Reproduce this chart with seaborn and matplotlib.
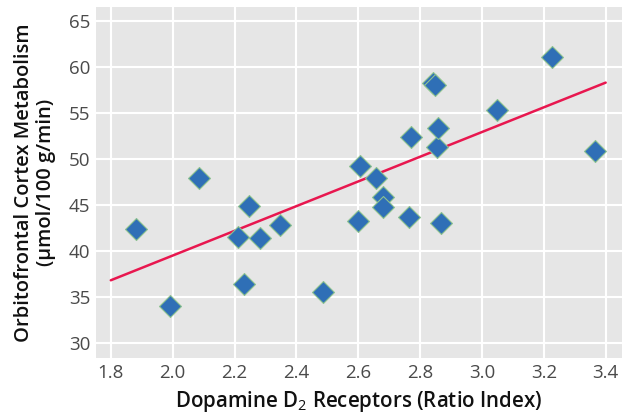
import matplotlib
matplotlib.use("Agg")
import matplotlib.pyplot as plt
import numpy as np
import pandas as pd
import seaborn as sns

# D2 receptor availability vs orbitofrontal metabolism
d2_ratio = [1.880, 1.991, 2.085, 2.212, 2.230, 2.247, 2.284, 2.346, 2.486,
            2.600, 2.605, 2.659, 2.680, 2.680, 2.764, 2.770, 2.841, 2.849,
            2.856, 2.857, 2.869, 3.050, 3.226, 3.366]
ofc_metab = [42.4, 34.1, 48.0, 41.6, 36.5, 44.9, 41.4, 42.8, 35.6,
             43.3, 49.2, 48.0, 45.9, 44.8, 43.7, 52.4, 58.3, 58.0,
             51.3, 53.4, 43.1, 55.3, 61.1, 50.9]

# regression line as drawn in the figure
fit_x = [1.8, 3.4]
fit_y = [36.85, 58.3]

x_ticks = [1.8, 2.0, 2.2, 2.4, 2.6, 2.8, 3.0, 3.2, 3.4]
y_ticks = [30, 35, 40, 45, 50, 55, 60, 65]

df = pd.DataFrame({"d2": d2_ratio, "metab": ofc_metab})
fit_df = pd.DataFrame({"d2": fit_x, "metab": fit_y})

sns.set_style("darkgrid", {"axes.facecolor": "#e6e6e6",
                           "grid.color": "white"})
plt.rcParams["font.family"] = ["Open Sans", "DejaVu Sans"]
plt.rcParams["mathtext.fontset"] = "custom"
plt.rcParams["mathtext.rm"] = "Open Sans"
plt.rcParams["mathtext.it"] = "Open Sans"
plt.rcParams["mathtext.bf"] = "Open Sans:bold"

fig = plt.figure(figsize=(6.23, 4.15), dpi=100)
ax = fig.add_axes([0.154, 0.137, 0.844, 0.846])

sns.lineplot(data=fit_df, x="d2", y="metab", ax=ax,
             color="#e8174f", linewidth=1.8, zorder=2)
sns.scatterplot(data=df, x="d2", y="metab", ax=ax, marker="D",
                s=125, color="#2f6fb6", edgecolor="#8dc28f",
                linewidth=0.8, zorder=3)

ax.set_xlim(1.752, 3.452)
ax.set_ylim(28.4, 66.5)
ax.set_xticks(x_ticks)
ax.set_xticklabels([f"{t:.1f}" for t in x_ticks])
ax.set_yticks(y_ticks)
ax.grid(True, color="white", linewidth=1.5)
ax.tick_params(length=0, labelsize=13.5, labelcolor="#4a4a4a", pad=4)
for s in ax.spines.values():
    s.set_visible(False)

ax.set_xlabel(r"Dopamine D$_\mathrm{2}$ Receptors (Ratio Index)",
              fontsize=14.8, fontweight="semibold", color="#111111",
              labelpad=5)
ax.set_ylabel("Orbitofrontal Cortex Metabolism\n(\u00b5mol/100 g/min)",
              fontsize=14.5, fontweight="semibold", color="#111111",
              labelpad=9, linespacing=1.15)

fig.savefig("out.png", dpi=100)
